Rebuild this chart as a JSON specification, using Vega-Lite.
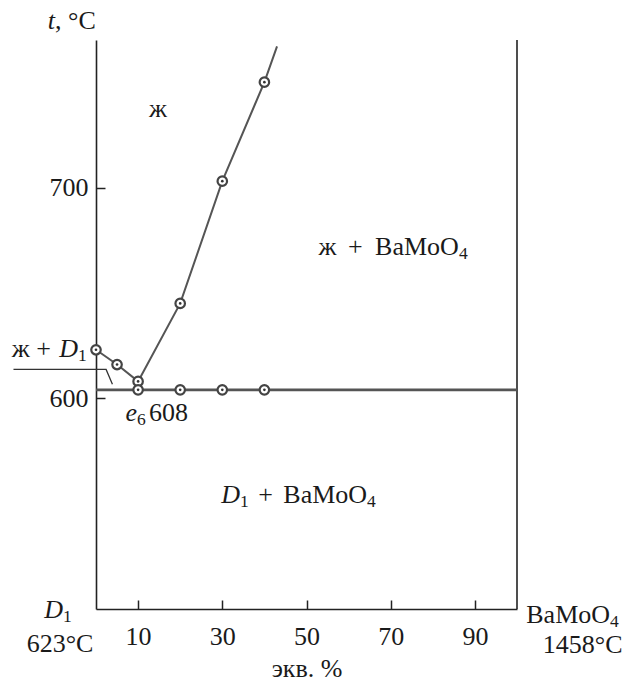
{
  "$schema": "https://vega.github.io/schema/vega-lite/v6.json",
  "width": 421,
  "height": 569,
  "autosize": {"type": "none"},
  "padding": {"left": 96, "top": 40, "right": 113, "bottom": 73},
  "background": "white",
  "config": {
    "view": {"stroke": null},
    "font": "Liberation Serif",
    "text": {"font": "Liberation Serif", "fontSize": 26, "color": "#1a1a1a", "baseline": "alphabetic"}
  },
  "encoding": {
    "x": {
      "field": "x",
      "type": "quantitative",
      "scale": {"domain": [0, 100], "nice": false, "zero": false},
      "axis": {
        "values": [10, 30, 50, 70, 90],
        "title": "экв. %",
        "titleFont": "Liberation Serif",
        "titleFontSize": 26,
        "titleFontWeight": "normal",
        "titleColor": "#1a1a1a",
        "titlePadding": 6,
        "labelFont": "Liberation Serif",
        "labelFontSize": 26,
        "labelColor": "#1a1a1a",
        "labelPadding": 23,
        "tickSize": -9,
        "tickColor": "#222",
        "tickWidth": 1.5,
        "domainColor": "#222",
        "domainWidth": 1.6,
        "grid": false
      }
    },
    "y": {
      "field": "t",
      "type": "quantitative",
      "scale": {"domain": [500, 770], "nice": false, "zero": false},
      "axis": {
        "values": [600, 700],
        "title": null,
        "labelFont": "Liberation Serif",
        "labelFontSize": 26,
        "labelColor": "#1a1a1a",
        "labelPadding": 17,
        "tickSize": -9,
        "tickColor": "#222",
        "tickWidth": 1.5,
        "domainColor": "#222",
        "domainWidth": 1.6,
        "grid": false
      }
    }
  },
  "layer": [
    {
      "data": {"values": [{"x": 100, "t": 500, "tTop": 770}]},
      "mark": {"type": "rule", "color": "#222", "strokeWidth": 1.6},
      "encoding": {"y2": {"field": "tTop"}}
    },
    {
      "data": {"values": [{"x": 0, "t": 604}, {"x": 100, "t": 604}]},
      "mark": {"type": "line", "color": "#555", "strokeWidth": 2.8},
      "encoding": {}
    },
    {
      "data": {"values": [
        {"branch": "D1", "ord": 1, "x": 0, "t": 623},
        {"branch": "D1", "ord": 2, "x": 5, "t": 616},
        {"branch": "D1", "ord": 3, "x": 10, "t": 608},
        {"branch": "BaMoO4", "ord": 1, "x": 10, "t": 608},
        {"branch": "BaMoO4", "ord": 2, "x": 20, "t": 645},
        {"branch": "BaMoO4", "ord": 3, "x": 30, "t": 703},
        {"branch": "BaMoO4", "ord": 4, "x": 40, "t": 750},
        {"branch": "BaMoO4", "ord": 5, "x": 43, "t": 767}
      ]},
      "mark": {"type": "line", "color": "#555", "strokeWidth": 2},
      "encoding": {
        "detail": {"field": "branch"},
        "order": {"field": "ord", "type": "quantitative"}
      }
    },
    {
      "data": {"values": [
        {"ord": 1, "x": -19.6, "t": 613.7},
        {"ord": 2, "x": 2.4, "t": 613.7},
        {"ord": 3, "x": 3.9, "t": 606.6}
      ]},
      "mark": {"type": "line", "color": "#333", "strokeWidth": 1.3},
      "encoding": {"order": {"field": "ord", "type": "quantitative"}}
    },
    {
      "data": {"values": [
        {"x": 0, "t": 623}, {"x": 5, "t": 616}, {"x": 10, "t": 608},
        {"x": 20, "t": 645}, {"x": 30, "t": 703}, {"x": 40, "t": 750},
        {"x": 10, "t": 604}, {"x": 20, "t": 604}, {"x": 30, "t": 604}, {"x": 40, "t": 604}
      ]},
      "layer": [
        {
          "mark": {"type": "point", "shape": "circle", "filled": true, "fill": "white", "stroke": "#444", "strokeWidth": 2.2, "size": 90, "opacity": 1}
        },
        {
          "mark": {"type": "circle", "size": 7, "color": "#333", "opacity": 1}
        }
      ]
    },
    {
      "data": {"values": [
        {"label": "ж", "x": 14.7, "t": 733.5},
        {"label": "ж", "x": 55.0, "t": 668.0},
        {"label": "+", "x": 61.6, "t": 668.0},
        {"label": "+", "x": 40.3, "t": 550.3},
        {"label": "623°C", "x": -8.55, "t": 479.5},
        {"label": "1458°C", "x": 115.6, "t": 479.1}
      ]},
      "mark": {"type": "text", "align": "center"},
      "encoding": {"text": {"field": "label"}}
    },
    {
      "data": {"values": [
        {"label": "BaMoO", "x": 86.2, "t": 668.0},
        {"label": "BaMoO", "x": 64.4, "t": 550.3},
        {"label": "ж +", "x": -10.7, "t": 619.6},
        {"label": "BaMoO", "x": 122.1, "t": 493.4}
      ]},
      "mark": {"type": "text", "align": "right"},
      "encoding": {"text": {"field": "label"}}
    },
    {
      "data": {"values": [
        {"label": ", °C", "x": -9.74, "t": 775.2},
        {"label": "608", "x": 12.6, "t": 589.2}
      ]},
      "mark": {"type": "text", "align": "left"},
      "encoding": {"text": {"field": "label"}}
    },
    {
      "data": {"values": [
        {"label": "t", "x": -9.74, "t": 775.2},
        {"label": "D", "x": 34.2, "t": 550.3},
        {"label": "D", "x": -4.28, "t": 619.6},
        {"label": "e", "x": 9.74, "t": 589.2},
        {"label": "D", "x": -7.84, "t": 495.7}
      ]},
      "mark": {"type": "text", "align": "right", "fontStyle": "italic"},
      "encoding": {"text": {"field": "label"}}
    },
    {
      "data": {"values": [
        {"label": "4", "x": 86.2, "t": 668.0},
        {"label": "1", "x": 34.2, "t": 550.3},
        {"label": "4", "x": 64.4, "t": 550.3},
        {"label": "1", "x": -4.28, "t": 619.6},
        {"label": "6", "x": 9.74, "t": 589.2},
        {"label": "1", "x": -7.84, "t": 495.7},
        {"label": "4", "x": 122.1, "t": 493.4}
      ]},
      "mark": {"type": "text", "align": "left", "fontSize": 17.5, "dy": 4},
      "encoding": {"text": {"field": "label"}}
    }
  ]
}
